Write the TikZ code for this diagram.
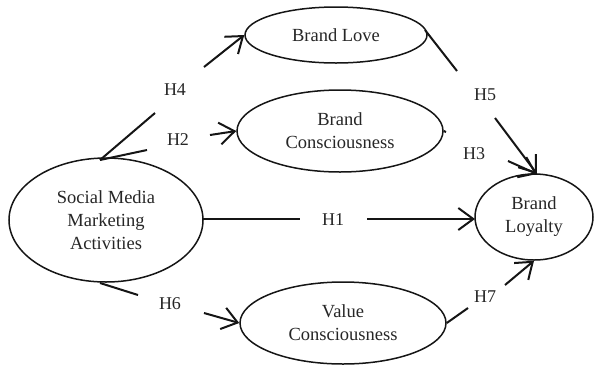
\documentclass[tikz,border=0pt]{standalone}
\usepackage{fontspec}
\setmainfont{Liberation Serif}
\usetikzlibrary{shapes.geometric,arrows.meta}
\definecolor{ink}{HTML}{151515}
\definecolor{txt}{HTML}{262626}
\begin{document}
\begin{tikzpicture}[x=1pt,y=-1pt,
  construct/.style={draw=ink,line width=1.5pt,ellipse,inner sep=0pt,align=center,
    text=txt,font=\fontsize{18.5}{23}\selectfont},
  hlabel/.style={text=txt,font=\fontsize{18}{22}\selectfont,inner sep=0pt},
  link/.style={draw=ink,line width=2pt},
  tip/.style={link,-{Straight Barb[length=15pt,width=22pt,line width=2pt]}}]
\useasboundingbox (0,0) rectangle (594,365);
% constructs
\node[construct,minimum width=182pt,minimum height=56pt] (love) at (336,35) {Brand Love};
\node[construct,minimum width=206pt,minimum height=82pt] (bcons) at (340,131) {Brand\\Consciousness};
\node[construct,minimum width=194pt,minimum height=124pt] (smma) at (106,220) {Social Media\\Marketing\\Activities};
\node[construct,minimum width=118pt,minimum height=86pt] (loyal) at (534,217) {Brand\\Loyalty};
\node[construct,minimum width=206pt,minimum height=82pt] (vcons) at (343,323) {Value\\Consciousness};
% labels
\node[hlabel] (h4) at (175,90) {H4};
\node[hlabel] (h2) at (178,140) {H2};
\node[hlabel] (h5) at (485,95) {H5};
\node[hlabel] (h3) at (474,154) {H3};
\node[hlabel] (h1) at (333,220) {H1};
\node[hlabel] (h6) at (170,304) {H6};
\node[hlabel] (h7) at (485,297) {H7};
% gap ends
\coordinate (h4a) at (155,113);
\coordinate (h4b) at (204,67);
\coordinate (h2a) at (147,150);
\coordinate (h2b) at (210,135);
\coordinate (h5a) at (457,71);
\coordinate (h5b) at (495,118);
\coordinate (h3a) at (446,132);
\coordinate (h3b) at (508,161);
\coordinate (h1a) at (300,219);
\coordinate (h1b) at (367,219);
\coordinate (h6a) at (138,295);
\coordinate (h6b) at (204,313);
\coordinate (h7a) at (468,308);
\coordinate (h7b) at (505,285);
\coordinate (smtop) at (100,160);
\coordinate (smbot) at (100,283);
\coordinate (smright) at (203,219);
\coordinate (loveR) at (425,30);
\coordinate (bltop) at (537,174);
\coordinate (blleft) at (475,219);
% connectors
\draw[link] (smtop) -- (h4a);
\draw[tip] (h4b) -- (love.west);
\draw[link] (smtop) -- (h2a);
\draw[tip] (h2b) -- (bcons.west);
\draw[link] (loveR) -- (h5a);
\draw[tip] (h5b) -- (bltop);
\draw[link] (bcons.east) -- (h3a);
\draw[tip] (h3b) -- (bltop);
\draw[link] (smright) -- (h1a);
\draw[tip] (h1b) -- (blleft);
\draw[link] (smbot) -- (h6a);
\draw[tip] (h6b) -- (vcons.west);
\draw[link] (vcons.east) -- (h7a);
\draw[tip] (h7b) -- (loyal.south);
\end{tikzpicture}
\end{document}
